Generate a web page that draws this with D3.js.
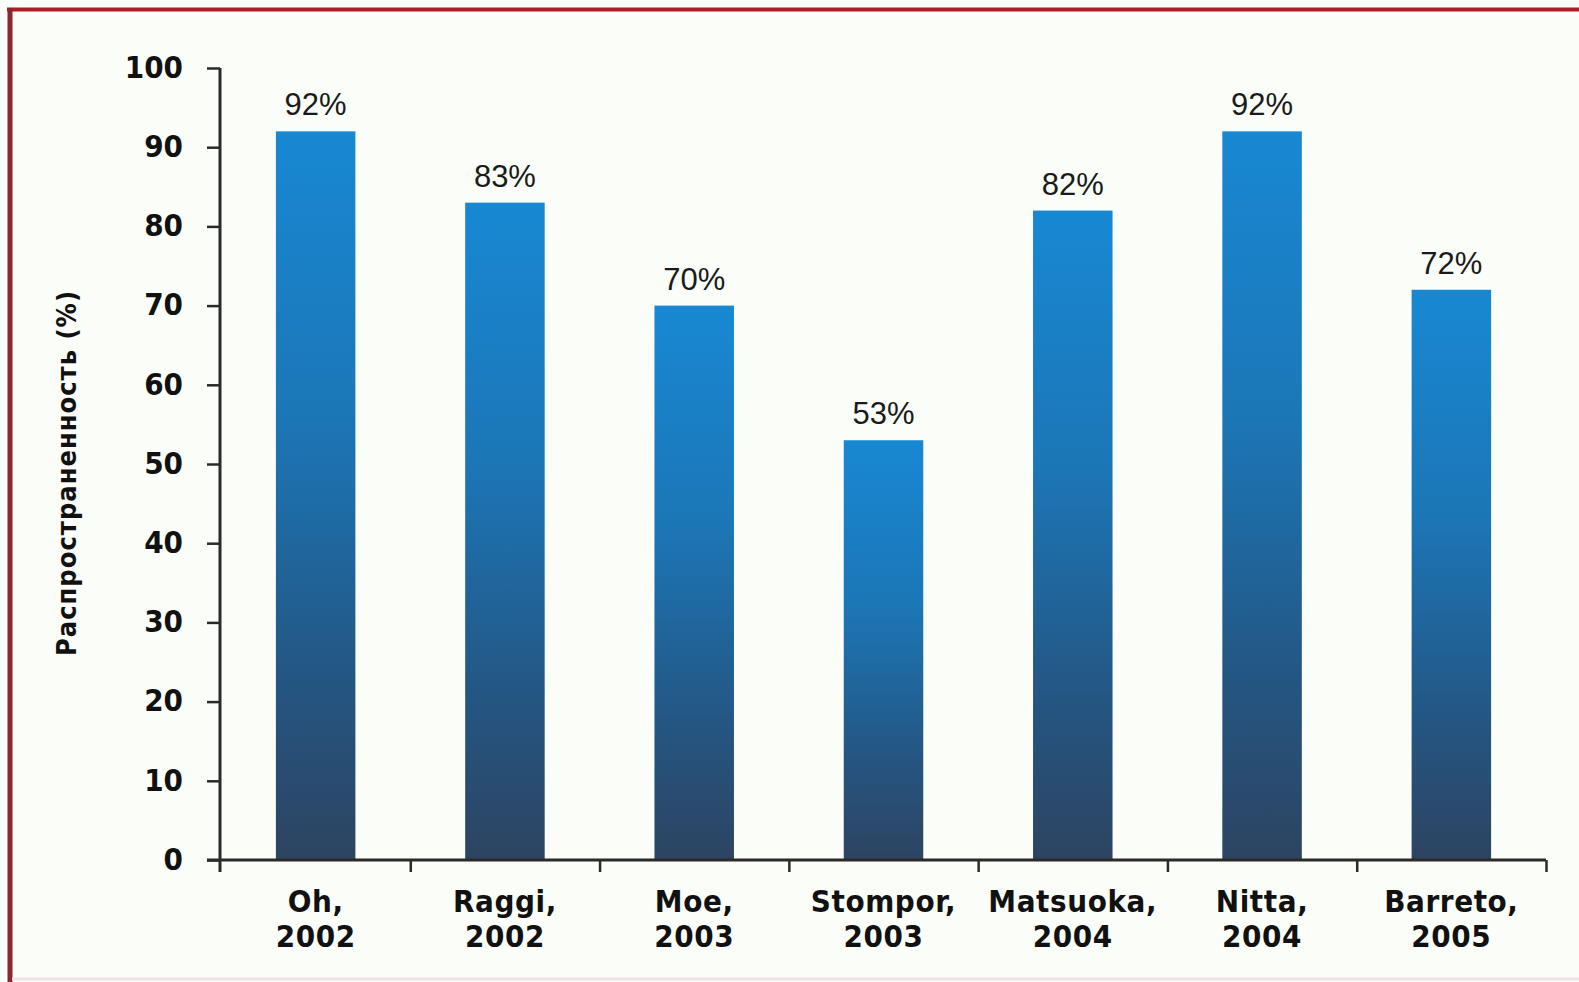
<!DOCTYPE html>
<html>
<head>
<meta charset="utf-8">
<script src="https://cdn.jsdelivr.net/npm/d3@7"></script>
<style>
  html, body { margin: 0; padding: 0; background: #fbfdf9; }
  svg { display: block; }
</style>
</head>
<body>
<script>
// Prevalence of vascular calcification by study
const studies = ["Oh", "Raggi", "Moe", "Stompor", "Matsuoka", "Nitta", "Barreto"];
const years = ["2002", "2002", "2003", "2003", "2004", "2004", "2005"];
const prevalence = [92, 83, 70, 53, 82, 92, 72];
const yTicks = [0, 10, 20, 30, 40, 50, 60, 70, 80, 90, 100];
const yTitle = "Распространенность (%)";

const W = 1579, H = 982;
const svg = d3.select("body").append("svg").attr("width", W).attr("height", H);

// frame
svg.append("rect").attr("x", 0).attr("y", 0).attr("width", W).attr("height", H).attr("fill", "#fbfdf9");
svg.append("line").attr("x1", 7).attr("x2", W).attr("y1", 9.5).attr("y2", 9.5)
  .attr("stroke", "#b01c24").attr("stroke-width", 4);
svg.append("line").attr("x1", 10).attr("x2", 10).attr("y1", 8).attr("y2", H)
  .attr("stroke", "#8e2632").attr("stroke-width", 5);
svg.append("line").attr("x1", 12).attr("x2", W).attr("y1", 979).attr("y2", 979)
  .attr("stroke", "#f6dfe6").attr("stroke-width", 3);

// bar gradient
const defs = svg.append("defs");
const grad = defs.append("linearGradient").attr("id", "barGrad")
  .attr("x1", 0).attr("y1", 0).attr("x2", 0).attr("y2", 1);
grad.append("stop").attr("offset", "0%").attr("stop-color", "#1888d3");
grad.append("stop").attr("offset", "40%").attr("stop-color", "#1c76b6");
grad.append("stop").attr("offset", "75%").attr("stop-color", "#245683");
grad.append("stop").attr("offset", "100%").attr("stop-color", "#2d4461");

const x = d3.scaleBand().domain(studies).range([221, 1546]).paddingInner(0).paddingOuter(0);
const y = d3.scaleLinear().domain([0, 100]).range([860, 68]);
const barFrac = 0.42;

const boldFont = "'Liberation Sans Narrow', 'DejaVu Sans Condensed', Arial, sans-serif";

// bars
svg.append("g").selectAll("rect").data(studies).join("rect")
  .attr("x", (d) => x(d) + x.bandwidth() * (1 - barFrac) / 2)
  .attr("width", x.bandwidth() * barFrac)
  .attr("y", (d, i) => y(prevalence[i]))
  .attr("height", (d, i) => y(0) - y(prevalence[i]))
  .attr("fill", "url(#barGrad)");

// value labels
svg.append("g").selectAll("text").data(studies).join("text")
  .attr("x", (d) => x(d) + x.bandwidth() / 2)
  .attr("y", (d, i) => y(prevalence[i]) - 16)
  .attr("text-anchor", "middle")
  .attr("font-family", "'Liberation Sans', Arial, sans-serif")
  .attr("font-size", 31)
  .attr("fill", "#1a1a1a")
  .text((d, i) => prevalence[i] + "%");

// y axis
const yAxis = svg.append("g").attr("transform", "translate(220,0)")
  .call(d3.axisLeft(y).tickValues(yTicks).tickSize(13).tickPadding(24).tickSizeOuter(0));
yAxis.select(".domain").remove();
yAxis.append("line").attr("x1", 0).attr("x2", 0).attr("y1", y(100)).attr("y2", y(0) + 12)
  .attr("stroke", "#2a2a2a").attr("stroke-width", 3);
yAxis.selectAll(".tick line").attr("stroke", "#2a2a2a").attr("stroke-width", 2.5);
yAxis.selectAll(".tick text")
  .attr("font-family", boldFont).attr("font-weight", "bold")
  .attr("font-size", 31).attr("letter-spacing", 0).attr("fill", "#111")
  .attr("dy", "0.3em");

// x axis with ticks at category boundaries
const bounds = d3.scaleLinear().domain([0, studies.length]).range([x.range()[0], x.range()[1]]);
const xAxis = svg.append("g").attr("transform", `translate(0,${y(0)})`)
  .call(d3.axisBottom(bounds).tickValues(d3.range(1, studies.length + 1)).tickSize(12).tickFormat(""));
xAxis.select(".domain").remove();
xAxis.append("line").attr("x1", 207).attr("x2", x.range()[1]).attr("y1", 0).attr("y2", 0)
  .attr("stroke", "#2a2a2a").attr("stroke-width", 3);
xAxis.selectAll(".tick line").attr("stroke", "#2a2a2a").attr("stroke-width", 2.5);

// category labels
const cat = svg.append("g").selectAll("text").data(studies).join("text")
  .attr("text-anchor", "middle")
  .attr("font-family", boldFont).attr("font-weight", "bold")
  .attr("font-size", 31).attr("letter-spacing", 0.6).attr("fill", "#111");
cat.append("tspan").attr("x", (d) => x(d) + x.bandwidth() / 2).attr("y", 912).text((d) => d + ",");
cat.append("tspan").attr("x", (d) => x(d) + x.bandwidth() / 2).attr("y", 947).text((d, i) => years[i]);

// y axis title
svg.append("text")
  .attr("transform", "translate(76,473) rotate(-90)")
  .attr("text-anchor", "middle")
  .attr("font-family", boldFont).attr("font-weight", "bold")
  .attr("font-size", 27).attr("letter-spacing", 1).attr("fill", "#111")
  .text(yTitle);
</script>
</body>
</html>
